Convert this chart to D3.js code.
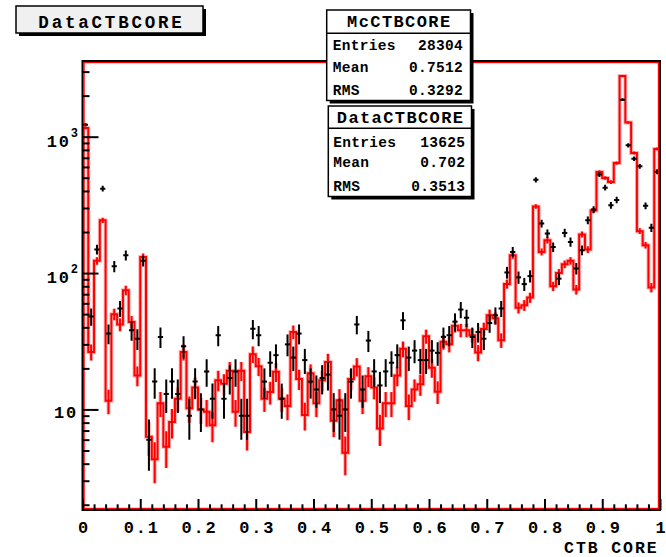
<!DOCTYPE html>
<html><head><meta charset="utf-8">
<script src="https://cdn.jsdelivr.net/npm/d3@7"></script>
<style>
body{margin:0;background:#fff}
svg{display:block}
text{font-family:"Liberation Mono","Courier New",monospace;font-weight:bold;fill:#000}
</style>
</head><body>
<svg id="c" width="666" height="557"></svg>
<script>
// ---------------- data ----------------
const nBins = 100;
const xRange = [0, 1];
const mcValues = [
 1156, 26.4, 123, 244, 11.6, 49.9, 42.0, 74.8, 43.8, 17.7,
 131, 6.3, 4.31, 11.1, 5.32, 8.1, 12.0, 26.4, 10.2, 14.5,
 10.0, 9.6, 7.67, 16.4, 15.4, 19.2, 9.6, 19.2, 6.82, 25.4,
 20.7, 12.0, 13.4, 18.9, 12.0, 10.6, 37.0, 16.7, 9.1, 18.4,
 11.1, 16.4, 22.3, 8.25, 11.7, 4.81, 16.7, 20.6, 11.6, 17.5,
 14.5, 7.26, 11.1, 11.1, 17.7, 27.8, 10.6, 14.0, 15.3, 34.4,
 20.2, 13.5, 31.3, 30.0, 41.1, 38.1, 38.1, 35.0, 26.1, 38.9,
 49.1, 46.7, 32.2, 83.2, 135, 55.7, 58.1, 66.1, 308, 143,
 174, 80.0, 100, 116, 123, 75.7, 192, 149, 288, 550,
 498, 465, 641, 2790, 1273, 759, 203, 160, 78.3, 814
];
const dataValues = [
 1224, 48, 149, 416, 36, 112, 55, 135, 38, 33,
 123, 6, 16, 34, 13, 16, 13, 29, 9, 16,
 10, 19, 12, 35, 12, 17, 19, 9, 9, 39,
 35, 16, 22, 25, 12, 30, 24, 36, 23, 16,
 14, 17, 18, 10, 9, 10, 16, 42, 14, 32,
 19, 15, 19, 22, 25, 45, 24, 27, 23, 23,
 27, 26, 34, 35, 44, 54, 47, 34, 37, 33,
 43, 49, 55, 101, 143, 93, 83, 95, 483, 231,
 195, 155, 91, 197, 169, 108, 147, 244, 292, 529,
 423, 314, 344, 1867, 864, 690, 606, 311, 215, 554
];
const xMajorTicks = [0, 0.1, 0.2, 0.3, 0.4, 0.5, 0.6, 0.7, 0.8, 0.9, 1];
const xTickLabels = ["0", "0.1", "0.2", "0.3", "0.4", "0.5", "0.6", "0.7", "0.8", "0.9", "1"];
const yMajorTicks = [10, 100, 1000];
const yTickExponents = ["", "2", "3"];
const xTitle = "CTB CORE";
const titleText = "DataCTBCORE";
const statLabels = ["Entries", "Mean", "RMS"];
const mcName = "McCTBCORE";
const mcStatValues = ["28304", "0.7512", "0.3292"];
const dataName = "DataCTBCORE";
const dataStatValues = ["13625", "0.702", "0.3513"];

// MC histogram normalised to data entries
const mcScale = (+dataStatValues[0]) / (+mcStatValues[0]);

// ---------------- layout ----------------
const svg = d3.select("#c");
const F = {l: 82.5, r: 660, t: 61, b: 510};
const x = d3.scaleLinear().domain(xRange).range([F.l, F.r]);
const y = d3.scaleLog().domain([1.83, 3590]).range([F.b, F.t]);
const bw = (xRange[1] - xRange[0]) / nBins;
const lo = i => xRange[0] + i * bw;
const hi = i => xRange[0] + (i + 1) * bw;
const ctr = i => xRange[0] + (i + 0.5) * bw;
const yc = v => y(Math.max(v, y.domain()[0]));

svg.append("rect").attr("width", 666).attr("height", 557).attr("fill", "#fff");

svg.append("defs").append("clipPath").attr("id", "fc")
  .append("rect").attr("x", F.l).attr("y", F.t).attr("width", F.r - F.l).attr("height", F.b - F.t);
const plot = svg.append("g").attr("clip-path", "url(#fc)");

// MC step outline
let pts = [[x(lo(0)), F.b]];
mcValues.forEach((v, i) => { pts.push([x(lo(i)), yc(v)]); pts.push([x(hi(i)), yc(v)]); });
pts.push([x(hi(nBins - 1)), F.b]);
const line = d3.line();
// MC error bars
const mcErr = mcValues.map((v, i) => {
  const e = Math.sqrt(v * mcScale);
  return {i, v, a: v - e, b: v + e};
});
[["#ffb4b4", 4], ["#ff0000", 2]].forEach(([c, w]) => {
  plot.append("path").attr("d", line(pts)).attr("fill", "none").attr("stroke", c).attr("stroke-width", w)
    .attr("stroke-linejoin", "miter");
  plot.append("g").selectAll("line").data(mcErr).join("line")
    .attr("x1", d => x(ctr(d.i))).attr("x2", d => x(ctr(d.i)))
    .attr("y1", d => yc(d.a)).attr("y2", d => yc(d.b))
    .attr("stroke", c).attr("stroke-width", w);
});

// Data points with error bars
const dErr = dataValues.map((v, i) => {
  const e = Math.sqrt(v);
  return {i, v, a: v - e, b: v + e};
});
const dg = plot.append("g");
dg.selectAll("line.v").data(dErr).join("line").attr("class", "v")
  .attr("x1", d => x(ctr(d.i))).attr("x2", d => x(ctr(d.i)))
  .attr("y1", d => yc(d.a)).attr("y2", d => yc(d.b))
  .attr("stroke", "#000").attr("stroke-width", 2);
dg.selectAll("line.h").data(dErr).join("line").attr("class", "h")
  .attr("x1", d => x(ctr(d.i)) - 2.6).attr("x2", d => x(ctr(d.i)) + 2.6)
  .attr("y1", d => y(d.v)).attr("y2", d => y(d.v))
  .attr("stroke", "#000").attr("stroke-width", 2);

// Frame: red inner line + black border
svg.append("rect").attr("x", F.l + 1.6).attr("y", F.t + 1.6).attr("width", F.r - F.l - 3.2).attr("height", F.b - F.t - 3.2)
  .attr("fill", "none").attr("stroke", "#ff0000").attr("stroke-width", 1.2);
svg.append("rect").attr("x", F.l).attr("y", F.t).attr("width", F.r - F.l).attr("height", F.b - F.t)
  .attr("fill", "none").attr("stroke", "#000").attr("stroke-width", 2);

// X axis ticks (inside)
const xMinor = d3.range(0, 51).map(k => k * 0.02).filter(v => xMajorTicks.every(m => Math.abs(m - v) > 1e-9));
const axMin = svg.append("g").attr("transform", `translate(0,${F.b})`)
  .call(d3.axisBottom(x).tickValues(xMinor).tickSize(-5.7).tickFormat(""));
const axMaj = svg.append("g").attr("transform", `translate(0,${F.b})`)
  .call(d3.axisBottom(x).tickValues(xMajorTicks).tickSize(-11).tickFormat((d, i) => xTickLabels[i]));
[axMin, axMaj].forEach(g => {
  g.select(".domain").remove();
  g.selectAll(".tick line").attr("stroke", "#000").attr("stroke-width", 2);
});
axMaj.selectAll(".tick text").attr("y", 23).attr("dy", 0).attr("font-size", 17)
  .attr("font-family", null).attr("style", "letter-spacing:1.8px").attr("dx", 0.9);

// Y axis ticks (inside)
const yMinor = [];
[1, 10, 100, 1000].forEach(dec => d3.range(2, 10).forEach(m => {
  const v = dec * m; if (v >= y.domain()[0] && v <= y.domain()[1]) yMinor.push(v);
}));
const ayMin = svg.append("g").attr("transform", `translate(${F.l},0)`)
  .call(d3.axisLeft(y).tickValues(yMinor).tickSize(-7).tickFormat(""));
const ayMaj = svg.append("g").attr("transform", `translate(${F.l},0)`)
  .call(d3.axisLeft(y).tickValues(yMajorTicks).tickSize(-16).tickFormat(""));
[ayMin, ayMaj].forEach(g => {
  g.select(".domain").remove();
  g.selectAll(".tick line").attr("stroke", "#000").attr("stroke-width", 2);
});
yMajorTicks.forEach((v, i) => {
  const t = svg.append("text").attr("text-anchor", "end").attr("font-size", 17).style("letter-spacing", "1.8px");
  if (yTickExponents[i] === "") {
    t.attr("x", 78).attr("y", y(v) + 9).text("10");
  } else {
    t.attr("x", 78).attr("y", y(v) + 10);
    t.append("tspan").text("10");
    t.append("tspan").attr("font-size", 12).attr("dy", -10).style("letter-spacing", "0px").text(yTickExponents[i]);
  }
});

// X axis title
svg.append("text").attr("x", 658.5).attr("y", 553).attr("text-anchor", "end").attr("font-size", 16.5)
  .style("letter-spacing", "1.9px").text(xTitle);

// ---------------- boxes ----------------
function shadowBox(x0, y0, x1, y1, fill) {
  svg.append("rect").attr("x", x0 + 3).attr("y", y0 + 3).attr("width", x1 - x0).attr("height", y1 - y0).attr("fill", "#000");
  svg.append("rect").attr("x", x0).attr("y", y0).attr("width", x1 - x0).attr("height", y1 - y0)
    .attr("fill", fill).attr("stroke", "#000").attr("stroke-width", 1.5);
}
function statBox(x0, y0, x1, y1, sepY, name, vals, hBase, rowBases, lx, rx) {
  shadowBox(x0, y0, x1, y1, "#fff");
  svg.append("line").attr("x1", x0).attr("x2", x1).attr("y1", sepY).attr("y2", sepY).attr("stroke", "#000").attr("stroke-width", 1.5);
  svg.append("text").attr("x", (x0 + x1) / 2 + 0.7).attr("y", hBase).attr("text-anchor", "middle").attr("font-size", 17)
    .style("letter-spacing", "1.4px").text(name);
  statLabels.forEach((s, k) => {
    svg.append("text").attr("x", lx).attr("y", rowBases[k]).attr("font-size", 14.5).style("letter-spacing", "0.3px").text(s);
    svg.append("text").attr("x", rx).attr("y", rowBases[k]).attr("text-anchor", "end").attr("font-size", 14.5)
      .style("letter-spacing", "0.3px").text(vals[k]);
  });
}
statBox(326.7, 10, 470.5, 100.5, 33.3, mcName, mcStatValues, 26.7, [50, 71.7, 95], 332.7, 463);
statBox(328.3, 106, 471.5, 196.5, 128.3, dataName, dataStatValues, 122.7, [146.7, 167.3, 190.7], 333.3, 465.3);

// Title box
shadowBox(16, 6, 203, 33, "#f0f0f0");
svg.append("text").attr("x", 111.5).attr("y", 28.3).attr("text-anchor", "middle").attr("font-size", 17.5)
  .style("letter-spacing", "2.8px").text(titleText);
</script>
</body></html>
